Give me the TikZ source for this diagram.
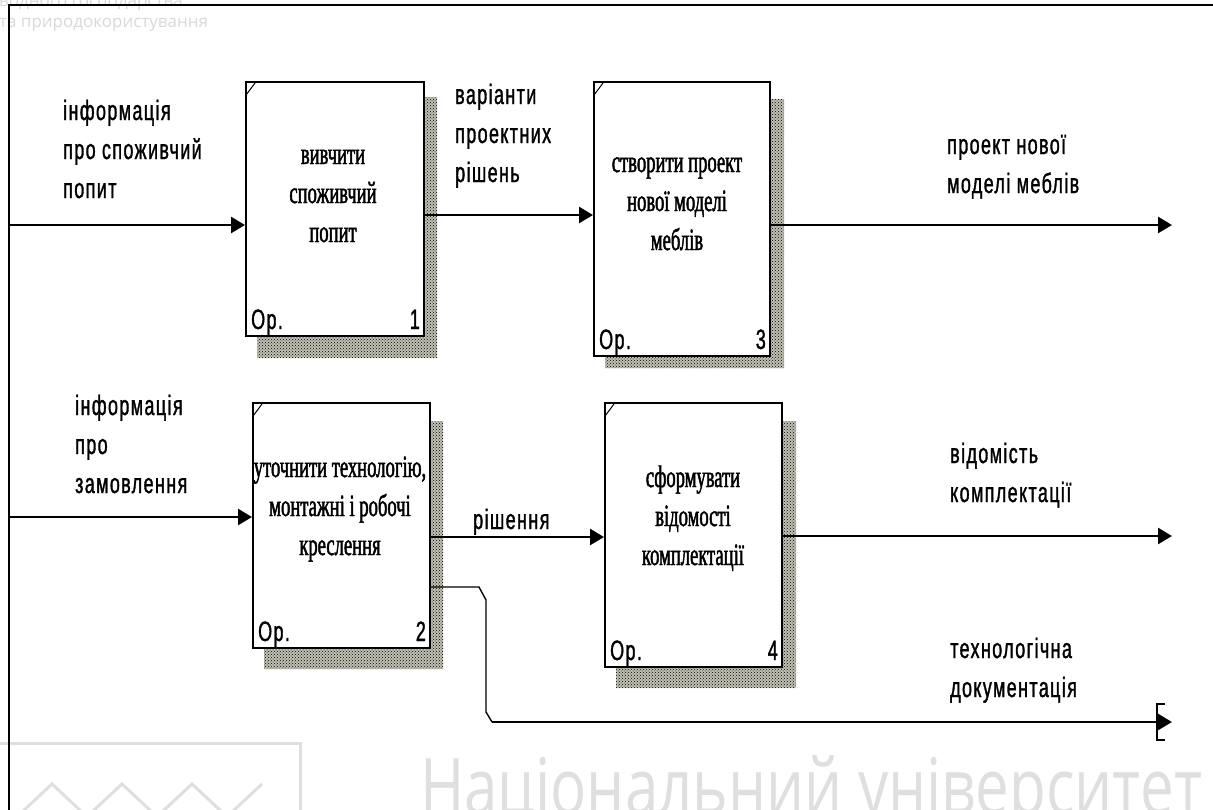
\documentclass[tikz,border=0pt]{standalone}
\usepackage{fontspec}
\usetikzlibrary{arrows.meta,patterns,backgrounds}
\newfontfamily\lblfont[FakeStretch=0.64,LetterSpace=5,FakeBold=1.2]{Liberation Sans}
\newfontfamily\boxfont[FakeStretch=0.6,FakeBold=1.5]{Liberation Serif}
\newfontfamily\wmfont{Open Sans}
\newfontfamily\wmwide[FakeStretch=0.77]{Open Sans}

\begin{document}
\begin{tikzpicture}[
  x=1pt,y=-1pt,
  process/.style={draw,line width=2pt,fill=white,inner sep=0pt},
  boxtext/.style={inner sep=0pt,anchor=base,align=center,
    font=\boxfont\fontsize{31}{39}\selectfont},
  shadow/.style={pattern=crosshatch dots,pattern color=black,
    preaction={fill=yellow!20!black!35}},
  flow/.style={line width=2.6pt,-{Triangle[length=14pt,width=16pt]}},
  label/.style={inner sep=0pt,anchor=base west,align=left,
    font=\lblfont\fontsize{28}{39}\selectfont},
  corner/.style={inner sep=0pt,font=\lblfont\fontsize{28}{30}\selectfont}
]
\useasboundingbox (0,0) rectangle (1213,809);

% activity boxes
\node[process,minimum width=178,minimum height=254] (b1) at (335,209) {};
\node[process,minimum width=176,minimum height=274] (b3) at (682,219) {};
\node[process,minimum width=177,minimum height=245] (b2) at (341.5,525.5) {};
\node[process,minimum width=177,minimum height=264] (b4) at (693.5,535) {};

\node[boxtext] (t1) at (333,242) {вивчити\\споживчий\\попит};
\node[boxtext] (t3) at (677,250) {створити проект\\нової моделі\\меблів};
\node[boxtext] (t2) at (340,555) {уточнити технологію,\\монтажні і робочі\\креслення};
\node[boxtext] (t4) at (693,565) {сформувати\\відомості\\комплектації};

\foreach \b/\n in {b1/1,b3/3,b2/2,b4/4}{
  \draw[line width=1pt] ([shift={(1,14)}]\b.north west) -- ([shift={(10,2)}]\b.north west);
  \node[corner,anchor=base west] (\b-op) at ([shift={(6,-8)}]\b.south west) {Op.};
  \node[corner,anchor=base east] (\b-num) at ([shift={(-5,-8)}]\b.south east) {\n};
}

% background: watermark and shadows
\begin{scope}[on background layer]
  \fill[white] (0,0) rectangle (1213,809);
  \begin{scope}
    \clip (0,0) rectangle (1213,809);
    \node[text=gray!30,inner sep=0pt,anchor=base west,font=\wmfont\fontsize{17}{20}\selectfont]
      (wm1) at (-1,6) {водного господарства};
    \node[text=gray!30,inner sep=0pt,anchor=base west,font=\wmfont\fontsize{17}{20}\selectfont]
      (wm2) at (-1,27) {та природокористування};
    \node[text=gray!25,inner sep=0pt,anchor=base west,font=\wmwide\fontsize{78}{80}\selectfont]
      (wm3) at (420,814) {Національний університет};
    \draw[gray!25,line width=3pt] (0,743) -- (300,743) -- (300,812);
    \draw[gray!25,line width=3pt] (22,812) -- (52,784) -- (82,812)
      (92,812) -- (122,784) -- (152,812) (162,812) -- (192,784) -- (222,812)
      (232,812) -- (262,784);
  \end{scope}
  \foreach \b/\t/\w/\h in {b1/16/12/21,b3/18/13/11,b2/19/12/20,b4/19/13/20}{
    \fill[shadow] ([shift={(0,\t)}]\b.north east) -- ++(\w,0)
      -- ([shift={(\w,\h)}]\b.south east) -- ([shift={(12,\h)}]\b.south west)
      -- ([shift={(12,0)}]\b.south west) -- (\b.south east) -- cycle;
  }
\end{scope}

% frame
\draw[line width=2.4pt] (9,812) -- (9,5) -- (1213,5);

% arrows
\coordinate (in1) at (9,225);
\coordinate (in2) at (9,517);
\coordinate (j13) at (600,215);
\coordinate (j24) at (600,537);
\coordinate (out3) at (1172,225);
\coordinate (out4) at (1172,536);
\coordinate (tb) at (479,587);
\coordinate (tk) at (492,722);
\coordinate (tn) at (1172,722);

\draw[flow] (in1) -- (b1.west |- in1);
\draw[flow] (b1.east |- j13) -- (b3.west |- j13);
\draw[flow] (b3.east |- out3) -- (out3);
\draw[flow] (in2) -- (b2.west |- in2);
\draw[flow] (b2.east |- j24) -- (b4.west |- j24);
\draw[flow] (b4.east |- out4) -- (out4);
\draw[line width=1.4pt] (b2.east |- tb) -- (tb) -- (486,600) -- (486,712) -- (tk);
\draw[flow] (tk) -- (tn);
\draw[line width=1.6pt] (1165,704) -- (1157,704) -- (1157,740) -- (1165,740);

% labels
\node[label] (l1) at (63,198) {інформація\\про споживчий\\попит};
\node[label] (l2) at (455,182) {варіанти\\проектних\\рішень};
\node[label] (l3) at (947,193) {проект нової\\моделі меблів};
\node[label] (l4) at (75,493) {інформація\\про\\замовлення};
\node[label] (l5) at (473,529) {рішення};
\node[label] (l6) at (950,502) {відомість\\комплектації};
\node[label] (l7) at (950,697) {технологічна\\документація};
\end{tikzpicture}
\end{document}
